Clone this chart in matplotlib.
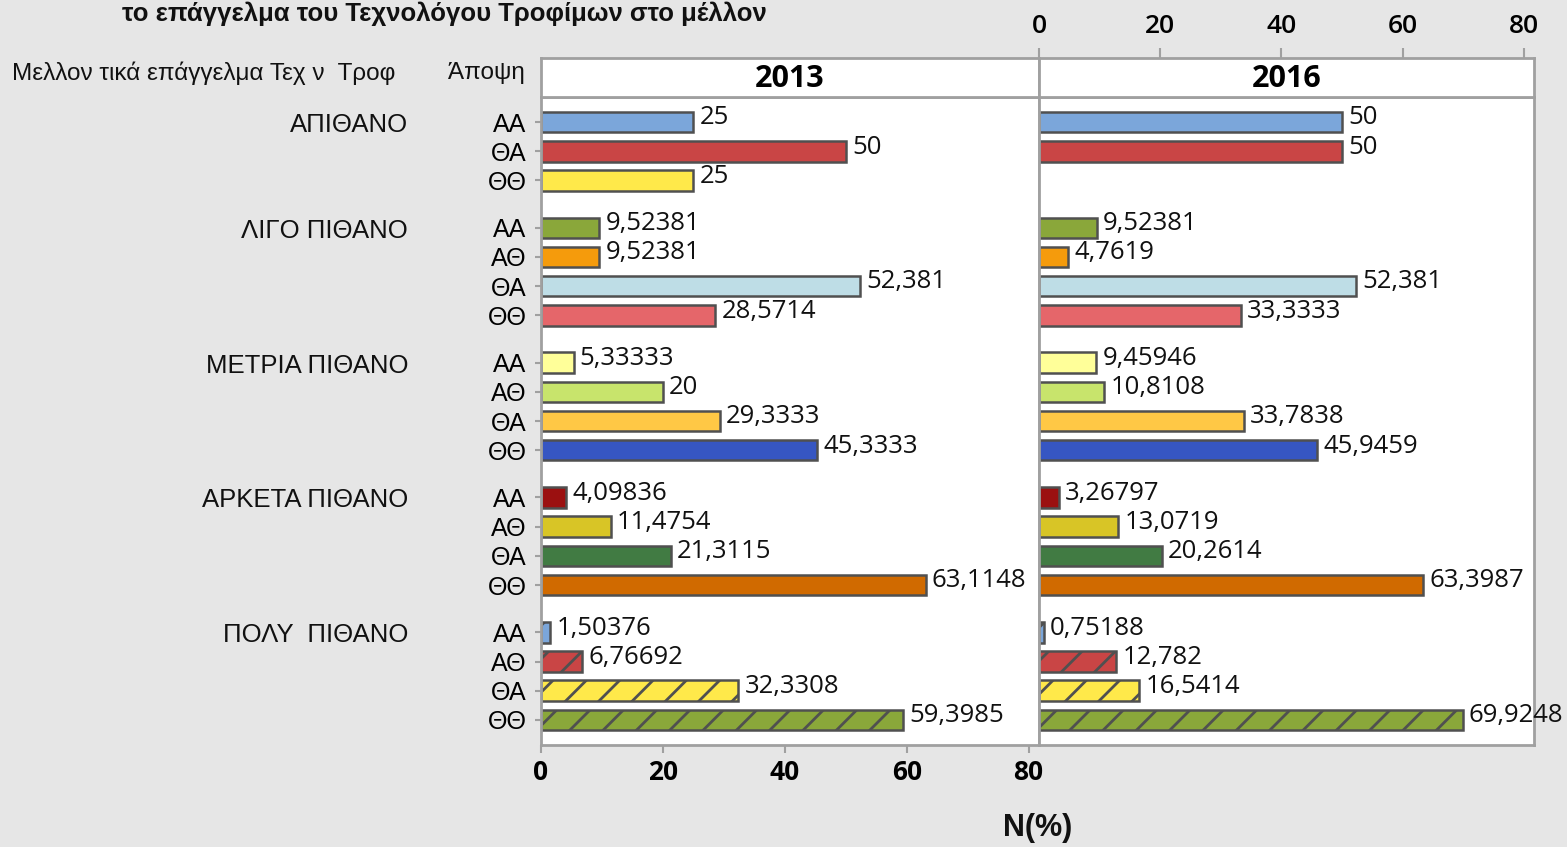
import matplotlib
matplotlib.use("Agg")
import matplotlib.pyplot as plt
import matplotlib.transforms as mtransforms

# ---------------- data ----------------
title = "το επάγγελμα του Τεχνολόγου Τροφίμων στο μέλλον"
header_left = "Μελλον τικά επάγγελμα Τεχ ν  Τροφ"
header_right = "Άποψη"
years = ["2013", "2016"]
groups = ["ΑΠΙΘΑΝΟ", "ΛΙΓΟ ΠΙΘΑΝΟ", "ΜΕΤΡΙΑ ΠΙΘΑΝΟ", "ΑΡΚΕΤΑ ΠΙΘΑΝΟ", "ΠΟΛΥ  ΠΙΘΑΝΟ"]
sub_labels = [
    ["ΑΑ", "ΘΑ", "ΘΘ"],
    ["ΑΑ", "ΑΘ", "ΘΑ", "ΘΘ"],
    ["ΑΑ", "ΑΘ", "ΘΑ", "ΘΘ"],
    ["ΑΑ", "ΑΘ", "ΘΑ", "ΘΘ"],
    ["ΑΑ", "ΑΘ", "ΘΑ", "ΘΘ"],
]
values_2013 = [
    [25, 50, 25],
    [9.52381, 9.52381, 52.381, 28.5714],
    [5.33333, 20, 29.3333, 45.3333],
    [4.09836, 11.4754, 21.3115, 63.1148],
    [1.50376, 6.76692, 32.3308, 59.3985],
]
values_2016 = [
    [50, 50, None],
    [9.52381, 4.7619, 52.381, 33.3333],
    [9.45946, 10.8108, 33.7838, 45.9459],
    [3.26797, 13.0719, 20.2614, 63.3987],
    [0.75188, 12.782, 16.5414, 69.9248],
]
x_ticks = [0, 20, 40, 60, 80]
x_label = "N(%)"

# ---------------- styles ----------------
bar_colors = [
    ["#7BA6DA", "#C94545", "#FFE94A"],
    ["#8AA73A", "#F59B0C", "#BEDDE6", "#E5666A"],
    ["#FFFF99", "#C8E46C", "#FFC845", "#3656C2"],
    ["#9B1010", "#D8C526", "#417B43", "#D06A00"],
    ["#7BA6DA", "#C94545", "#FFE94A", "#8AA73A"],
]
hatched_group = 4

W, H = 1567, 847
BG = "#E6E6E6"
SPINE = "#A0A0A0"
EDGE = "#505050"
VAL_FONT = ["Open Sans", "DejaVu Sans"]
LAB_FONT = ["Liberation Sans", "DejaVu Sans"]
plt.rcParams["hatch.linewidth"] = 2.0

fig = plt.figure(figsize=(W / 100, H / 100), dpi=100, facecolor=BG)


def fx(px):
    return px / W


def fy(py):
    return 1 - py / H


# y positions with gaps between groups
step, gap = 1.0, 0.62
ypos = []
y = 0.0
for gi, subs in enumerate(sub_labels):
    if gi > 0:
        y += gap
    row = []
    for _ in subs:
        row.append(y)
        y += step
    ypos.append(row)
y_last = ypos[-1][-1]
pad_units = 0.86

panel_top, panel_bot, strip_top = 97, 745, 58
panels = [(541, 1039), (1039, 1534)]
xmax = 81.7


def fmt(v):
    return ("%g" % v).replace(".", ",")


all_y = [yy for row in ypos for yy in row]
all_sub = [s for row in sub_labels for s in row]

for pi, (vals, year) in enumerate(zip([values_2013, values_2016], years)):
    l, r = panels[pi]
    ax = fig.add_axes([fx(l), fy(panel_bot), (r - l) / W, (panel_bot - panel_top) / H])
    st = fig.add_axes([fx(l), fy(panel_top), (r - l) / W, (panel_top - strip_top) / H])
    ax.set_facecolor("white")
    st.set_facecolor("white")
    for a in (ax, st):
        for sp in a.spines.values():
            sp.set_color(SPINE)
            sp.set_linewidth(2)
        a.set_xlim(0, xmax)
    ax.set_ylim(y_last + pad_units, -pad_units)

    for gi in range(len(groups)):
        for si, v in enumerate(vals[gi]):
            if v is None:
                continue
            yy = ypos[gi][si]
            ax.barh(yy, v, height=0.70, color=bar_colors[gi][si], edgecolor=EDGE,
                    linewidth=1.8, hatch="/" if gi == hatched_group else None, zorder=2)
            ax.annotate(fmt(v), xy=(v, yy), xytext=(4.5, 3), textcoords="offset points",
                        ha="left", va="center", fontsize=18.5, family=VAL_FONT,
                        color="#111111", annotation_clip=False, zorder=3)

    st.set_yticks([])
    st.text(0.5, 0.45, year, transform=st.transAxes, ha="center", va="center",
            fontsize=22, fontweight="bold", family=VAL_FONT)

    if pi == 0:
        ax.set_yticks(all_y)
        ax.set_yticklabels(all_sub, fontsize=18, family=LAB_FONT)
        ax.tick_params(axis="y", length=4.5, width=1.5, color=SPINE, pad=6)
        ax.set_xticks(x_ticks)
        ax.set_xticklabels([str(t) for t in x_ticks], fontsize=19,
                           fontweight="bold", family=VAL_FONT)
        ax.tick_params(axis="x", length=6, width=1.5, color=SPINE, pad=4)
        st.set_xticks([])
        trans = mtransforms.blended_transform_factory(fig.transFigure, ax.transData)
        for gi, g in enumerate(groups):
            ax.text(fx(408), ypos[gi][0] + 0.1, g, transform=trans, ha="right",
                    va="center", fontsize=18.5, family=LAB_FONT, color="#111111")
    else:
        ax.set_yticks([])
        ax.set_xticks([])
        st.xaxis.tick_top()
        st.set_xticks(x_ticks)
        st.set_xticklabels([str(t) for t in x_ticks], fontsize=19,
                           fontweight="semibold", family=VAL_FONT)
        st.tick_params(axis="x", length=7, width=1.5, color=SPINE, pad=7)

fig.text(fx(12), fy(73), header_left, ha="left", va="center", fontsize=17.5,
         family=LAB_FONT, color="#111111")
fig.text(fx(525), fy(73), header_right, ha="right", va="center", fontsize=17.5,
         family=LAB_FONT, color="#111111")
fig.text(fx(444), fy(21), title, ha="center", va="baseline", fontsize=18.5,
         fontweight="bold", family=LAB_FONT, color="#111111")
fig.text(fx(1038), fy(828), x_label, ha="center", va="center", fontsize=22,
         fontweight="bold", family=LAB_FONT, color="#111111")

fig.savefig("out.png", dpi=100, facecolor=BG)
